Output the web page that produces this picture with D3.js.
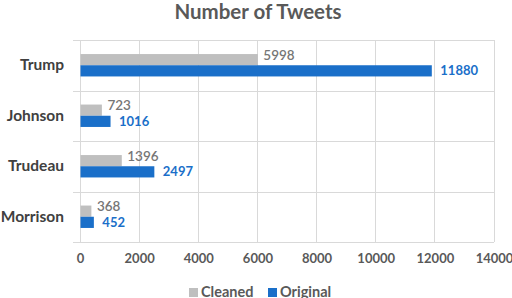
<!DOCTYPE html>
<html><head><meta charset="utf-8">
<script src="https://cdn.jsdelivr.net/npm/d3@7"></script>
<style>body{margin:0;background:#fff;}svg{display:block;}</style>
</head><body>
<script>
const categories = ["Trump", "Johnson", "Trudeau", "Morrison"];
const series = ["Cleaned", "Original"];
const cleaned = [5998, 723, 1396, 368];
const original = [11880, 1016, 2497, 452];
const xTicks = [0, 2000, 4000, 6000, 8000, 10000, 12000, 14000];
const colors = {Cleaned: "#bfbfbf", Original: "#1a6fc9"};
const labelColors = {Cleaned: "#767676", Original: "#1a6fc9"};

const W = 512, H = 298;
const font = "Lato, 'Open Sans', sans-serif";
const svg = d3.select("body").append("svg").attr("width", W).attr("height", H);

const x = d3.scaleLinear().domain([0, 14000]).range([80, 494]);
const y = d3.scaleBand().domain(categories).range([40, 242]);
const inner = d3.scaleBand().domain(series).range([0, 22.4]);
const off = (y.bandwidth() - 22.4) / 2;

svg.append("text").attr("x", 258).attr("y", 19).attr("text-anchor", "middle")
  .attr("font-family", font).attr("font-weight", 700).attr("font-size", 20.5)
  .attr("fill", "#595959").text("Number of Tweets");

// vertical grid
svg.append("g").selectAll("line").data(xTicks).join("line")
  .attr("x1", d => x(d)).attr("x2", d => x(d)).attr("y1", 40).attr("y2", 242)
  .attr("stroke", "#d9d9d9").attr("stroke-width", 1).attr("shape-rendering", "crispEdges");
// horizontal separators
const seps = [40, 242].concat(categories.slice(1).map(c => y(c)));
svg.append("g").selectAll("line").data(seps).join("line")
  .attr("x1", 73).attr("x2", 494).attr("y1", d => Math.round(d) + 0.5).attr("y2", d => Math.round(d) + 0.5)
  .attr("stroke", "#d9d9d9").attr("stroke-width", 1);

// x axis tick labels
const xAxis = d3.axisBottom(x).tickValues(xTicks).tickSize(0).tickPadding(0).tickFormat(d3.format("d"));
const gx = svg.append("g").attr("transform", "translate(0,254)").call(xAxis);
gx.select(".domain").remove();
gx.selectAll("text").attr("font-family", font).attr("font-weight", 700).attr("font-size", 13)
  .attr("fill", "#595959");

// y axis labels
const yAxis = d3.axisLeft(y).tickSize(0).tickPadding(0);
const gy = svg.append("g").attr("transform", "translate(64,0)").call(yAxis);
gy.select(".domain").remove();
gy.selectAll("text").attr("font-family", font).attr("font-weight", 700).attr("font-size", 15.5)
  .attr("fill", "#404040");

const data = [];
categories.forEach((c, i) => {
  data.push({cat: c, s: "Cleaned", v: cleaned[i]});
  data.push({cat: c, s: "Original", v: original[i]});
});

svg.append("g").selectAll("rect").data(data).join("rect")
  .attr("x", x(0) + 0.5).attr("y", d => y(d.cat) + off + inner(d.s))
  .attr("width", d => x(d.v) - x(0)).attr("height", inner.bandwidth())
  .attr("fill", d => colors[d.s]);

svg.append("g").selectAll("text").data(data).join("text")
  .attr("x", d => x(d.v) + 6 + (d.s === "Original" ? 3 : 0))
  .attr("y", d => y(d.cat) + off + inner(d.s) + inner.bandwidth() / 2 + (d.s === "Cleaned" ? 0 : 4.5))
  .attr("font-family", font).attr("font-size", d => d.s === "Original" ? 13 : 13.5)
  .attr("font-weight", d => d.s === "Original" ? 700 : 600)
  .attr("fill", d => labelColors[d.s]).text(d => d.v);

// legend
const leg = svg.append("g");
const legX = [189, 268];
series.forEach((s, i) => {
  leg.append("rect").attr("x", legX[i]).attr("y", 288).attr("width", 9).attr("height", 9).attr("fill", colors[s]);
  leg.append("text").attr("x", legX[i] + 12).attr("y", 296.5).attr("font-family", font)
    .attr("font-weight", 700).attr("font-size", 14.5).attr("fill", "#595959").text(s);
});
</script>
</body></html>
